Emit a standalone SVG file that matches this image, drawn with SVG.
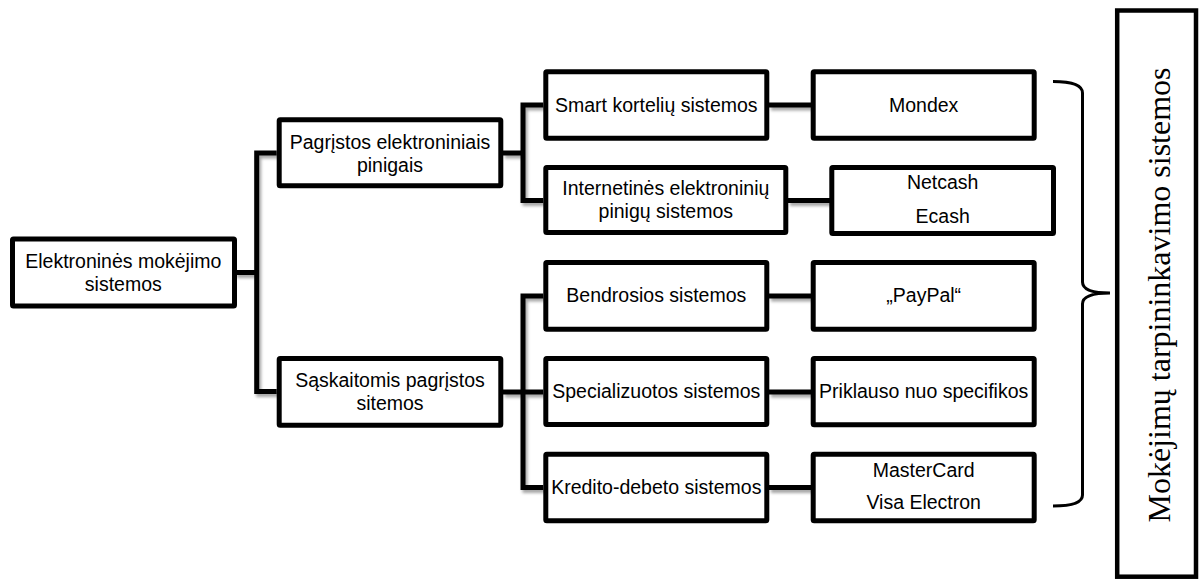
<svg xmlns="http://www.w3.org/2000/svg" width="1201" height="579" viewBox="0 0 1201 579">
<style>
.box{fill:#fff;stroke:#000;stroke-width:5;stroke-linejoin:miter}
.conn{fill:none;stroke:#000;stroke-width:5;stroke-linejoin:miter}
.t{font-family:"Liberation Sans",Arial,sans-serif;font-size:19.5px;fill:#000;text-anchor:middle}
.v{font-family:"Liberation Serif","Times New Roman",serif;font-size:32px;fill:#000;text-anchor:middle}
.brace{fill:none;stroke:#000;stroke-width:3}
</style>
<defs>
<filter id="sh" x="-10%" y="-10%" width="130%" height="130%">
<feDropShadow dx="2" dy="3" stdDeviation="1.5" flood-color="#000" flood-opacity="0.35"/>
</filter>
</defs>
<rect width="1201" height="579" fill="#fff"/>
<g id="connectors" class="conn" filter="url(#sh)">
<path d="M234.7,272.5 H256.7"/>
<path d="M276.7,153 H256.7 V391.5 H276.7"/>
<path d="M503,153 H523"/>
<path d="M543.3,105 H523 V200.5 H543.3"/>
<path d="M769,105 H811"/>
<path d="M788,200.5 H830"/>
<path d="M503,392 H543.3"/>
<path d="M543.3,296 H523 V487.5 H543.3"/>
<path d="M769,296 H811"/>
<path d="M769,392 H811"/>
<path d="M769,487.5 H811"/>
</g>
<g id="n-root"><rect class="box" x="12.5" y="239" width="222" height="67" rx="1"/>
<text class="t" x="123.3" y="268.3">Elektroninės mokėjimo</text><text class="t" x="123.3" y="291">sistemos</text></g>
<g id="n-pagristos"><rect class="box" x="279.2" y="119.8" width="221.6" height="66" rx="1"/>
<text class="t" x="390" y="148.8">Pagrįstos elektroniniais</text><text class="t" x="390" y="171.5">pinigais</text></g>
<g id="n-saskaitomis"><rect class="box" x="279.2" y="358.5" width="221.6" height="66.7" rx="1"/>
<text class="t" x="390" y="386.8">Sąskaitomis pagrįstos</text><text class="t" x="390" y="409.5">sitemos</text></g>
<g id="n-smart"><rect class="box" x="545.8" y="71.8" width="221" height="66.4" rx="1"/>
<text class="t" x="656.3" y="111.7">Smart kortelių sistemos</text></g>
<g id="n-internetines"><rect class="box" x="545.8" y="167.5" width="240" height="65" rx="1"/>
<text class="t" x="665.8" y="195.3">Internetinės elektroninių</text><text class="t" x="665.8" y="218">pinigų sistemos</text></g>
<g id="n-bendrosios"><rect class="box" x="545.8" y="262.5" width="221" height="66.7" rx="1"/>
<text class="t" x="656.3" y="302.3">Bendrosios sistemos</text></g>
<g id="n-specializuotos"><rect class="box" x="545.8" y="358.5" width="221" height="66" rx="1"/>
<text class="t" x="656.3" y="397.7">Specializuotos sistemos</text></g>
<g id="n-kredito"><rect class="box" x="545.8" y="454.2" width="221" height="66.6" rx="1"/>
<text class="t" x="656.3" y="494.3">Kredito-debeto sistemos</text></g>
<g id="n-mondex"><rect class="box" x="813.2" y="71.8" width="221" height="66.4" rx="1"/>
<text class="t" x="923.7" y="111.7">Mondex</text></g>
<g id="n-netcash"><rect class="box" x="831.8" y="167.5" width="221.7" height="66" rx="1"/>
<text class="t" x="942.7" y="189.3">Netcash</text><text class="t" x="942.7" y="222.7">Ecash</text></g>
<g id="n-paypal"><rect class="box" x="813.2" y="262.5" width="221" height="66.7" rx="1"/>
<text class="t" x="923.7" y="302.3">„PayPal“</text></g>
<g id="n-priklauso"><rect class="box" x="813.2" y="358.5" width="221" height="66.3" rx="1"/>
<text class="t" x="923.7" y="397.7">Priklauso nuo specifikos</text></g>
<g id="n-mastercard"><rect class="box" x="813.2" y="454.2" width="221" height="66.6" rx="1"/>
<text class="t" x="923.7" y="476.7">MasterCard</text><text class="t" x="923.7" y="509.3">Visa Electron</text></g>
<g id="n-brace"><path class="brace" d="M1053,81.5 Q1082.5,81.5 1082.5,93 L1082.5,282 Q1082.5,293 1110,293 Q1082.5,293 1082.5,304 L1082.5,495 Q1082.5,506 1053,506"/></g>
<g id="n-mokejimu"><rect x="1117.2" y="10.5" width="78.8" height="566.2" fill="#fff" stroke="#000" stroke-width="4.5"/>
<text class="v" transform="translate(1170,295) rotate(-90)" x="0" y="0">Mokėjimų tarpininkavimo sistemos</text></g>
</svg>
